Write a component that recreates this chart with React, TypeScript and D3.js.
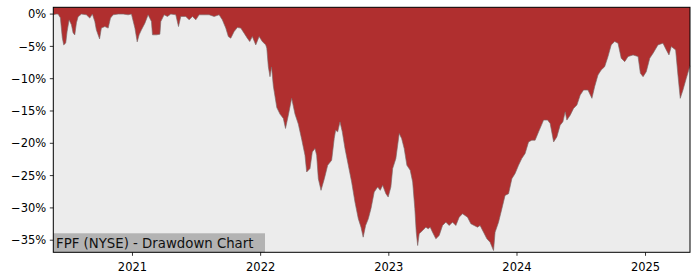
import React from "react";
import * as d3 from "d3";

// Drawdown series: time (decimal year) and drawdown (%)
const times: number[] = [
  2020.384, 2020.405, 2020.421, 2020.439, 2020.454, 2020.465, 2020.481, 2020.491, 2020.507, 2020.525,
  2020.538, 2020.551, 2020.564, 2020.577, 2020.603, 2020.641, 2020.668, 2020.688, 2020.707, 2020.719,
  2020.744, 2020.758, 2020.785, 2020.811, 2020.829, 2020.850, 2020.889, 2020.928, 2020.966, 2020.992,
  2021.019, 2021.037, 2021.052, 2021.070, 2021.097, 2021.122, 2021.148, 2021.156, 2021.187, 2021.214,
  2021.221, 2021.247, 2021.273, 2021.299, 2021.338, 2021.359, 2021.377, 2021.416, 2021.442, 2021.468,
  2021.494, 2021.520, 2021.559, 2021.598, 2021.637, 2021.676, 2021.701, 2021.728, 2021.748, 2021.767,
  2021.793, 2021.818, 2021.845, 2021.871, 2021.896, 2021.915, 2021.935, 2021.962, 2021.988, 2022.013,
  2022.040, 2022.048, 2022.060, 2022.073, 2022.085, 2022.099, 2022.126, 2022.151, 2022.177, 2022.194,
  2022.216, 2022.242, 2022.268, 2022.294, 2022.320, 2022.346, 2022.359, 2022.385, 2022.403, 2022.424,
  2022.437, 2022.450, 2022.471, 2022.497, 2022.523, 2022.554, 2022.574, 2022.585, 2022.601, 2022.619,
  2022.637, 2022.658, 2022.684, 2022.710, 2022.736, 2022.762, 2022.783, 2022.800, 2022.819, 2022.840,
  2022.861, 2022.886, 2022.913, 2022.933, 2022.952, 2022.977, 2022.995, 2023.016, 2023.030, 2023.055,
  2023.081, 2023.100, 2023.120, 2023.141, 2023.167, 2023.186, 2023.203, 2023.214, 2023.225, 2023.237,
  2023.264, 2023.289, 2023.307, 2023.323, 2023.341, 2023.367, 2023.393, 2023.419, 2023.445, 2023.471,
  2023.497, 2023.523, 2023.549, 2023.575, 2023.614, 2023.640, 2023.666, 2023.692, 2023.712, 2023.739,
  2023.765, 2023.790, 2023.817, 2023.829, 2023.856, 2023.882, 2023.907, 2023.934, 2023.960, 2023.985,
  2024.012, 2024.037, 2024.063, 2024.090, 2024.115, 2024.141, 2024.168, 2024.207, 2024.238, 2024.258,
  2024.285, 2024.310, 2024.336, 2024.357, 2024.375, 2024.388, 2024.414, 2024.440, 2024.466, 2024.492,
  2024.518, 2024.552, 2024.583, 2024.604, 2024.630, 2024.655, 2024.682, 2024.708, 2024.733, 2024.760,
  2024.786, 2024.811, 2024.838, 2024.864, 2024.903, 2024.942, 2024.960, 2024.981, 2025.006, 2025.033,
  2025.059, 2025.097, 2025.136, 2025.162, 2025.183, 2025.201, 2025.235, 2025.253, 2025.271, 2025.292,
  2025.318, 2025.347,
];

const drawdowns: number[] = [
  -0.11, 0, 0, -0.57, -3.68, -4.77, -4.46, -2.75, -0.89, -1.66,
  -2.9, -3.23, -1.35, -0.42, 0, -0.11, -0.62, 0, -1.15, -2.44,
  -3.84, -2.17, -1.93, -2.17, -0.62, -0.11, 0, 0, -0.11, 0,
  -2.17, -4.3, -3.21, -2.44, -1.4, -0.11, -1.15, -3.21, -3.21, -3.11,
  -1.15, -0.11, -0.37, 0, -0.11, -1.93, -0.37, -0.37, -0.89, -0.37,
  -0.89, -0.11, -0.11, -0.11, -0.37, -0.11, -0.89, -2.17, -3.48, -3.73,
  -2.7, -2.08, -2.17, -2.95, -3.73, -4.25, -3.48, -4.77, -3.48, -4.25,
  -4.77, -5.28, -8.14, -9.69, -8.18, -11.13, -14.47, -15.48, -16.15, -17.7,
  -15.64, -13.04, -15.48, -17.03, -19.36, -21.85, -24.44, -23.91, -21.34, -20.81,
  -21.85, -25.47, -27.28, -25.47, -23.4, -22.62, -19.25, -17.97, -18.23, -16.68,
  -18.23, -20.81, -23.4, -25.99, -29.1, -31.68, -32.98, -34.53, -32.72, -31.68,
  -30.08, -27.55, -26.77, -27.28, -26.51, -27.8, -28.32, -26.77, -23.91, -22.36,
  -18.48, -19.25, -20.81, -23.4, -24.18, -25.99, -30.12, -33.76, -35.82, -34.01,
  -33.49, -32.98, -33.23, -32.98, -33.76, -34.78, -34.27, -32.72, -32.2, -32.72,
  -32.2, -32.72, -31.43, -30.9, -31.43, -32.45, -32.72, -32.98, -32.72, -33.76,
  -34.78, -35.31, -36.6, -33.76, -32.2, -30.12, -28.06, -27.8, -25.47, -24.69,
  -23.4, -22.36, -21.58, -19.78, -19.52, -19.52, -18.23, -16.41, -16.41, -16.93,
  -19.78, -19.01, -17.19, -16.68, -15.12, -16.41, -15.64, -14.6, -14.08, -12.53,
  -11.76, -11.76, -13.04, -11.24, -9.43, -8.65, -8.14, -6.58, -4.77, -4.25,
  -4.5, -6.83, -7.36, -6.58, -6.32, -6.58, -9.16, -9.69, -8.91, -6.83,
  -6.06, -4.77, -4.5, -5.54, -6.32, -5.03, -5.54, -9.43, -13.04, -11.76,
  -9.94, -8.0,
];

const yTickValues: number[] = [0, -5, -10, -15, -20, -25, -30, -35];
const xTickYears: number[] = [2021, 2022, 2023, 2024, 2025];
const title = "FPF (NYSE) - Drawdown Chart";

function decToDate(t: number): Date {
  const y = Math.floor(t);
  const start = Date.UTC(y, 0, 1);
  const end = Date.UTC(y + 1, 0, 1);
  return new Date(start + (t - y) * (end - start));
}

export default function App() {
  const W = 700;
  const H = 280;
  const left = 53.3;
  const right = 690;
  const top = 7.3;
  const bottom = 252.3;

  const data = times.map((t, i) => ({ date: decToDate(t), v: drawdowns[i] }));

  const x = d3
    .scaleUtc()
    .domain([decToDate(times[0]), decToDate(times[times.length - 1])])
    .range([left, right]);
  const y = d3.scaleLinear().domain([-36.87, 1.05]).range([bottom, top]);

  const area = d3
    .area<{ date: Date; v: number }>()
    .x((d) => x(d.date))
    .y0(() => y(1.05))
    .y1((d) => y(d.v));
  const line = d3
    .line<{ date: Date; v: number }>()
    .x((d) => x(d.date))
    .y((d) => y(d.v));

  const font = "DejaVu Sans, sans-serif";
  const fmt = (v: number) => (v < 0 ? "\u2212" + Math.abs(v) : String(v)) + "%";

  return (
    <svg
      width={W}
      height={H}
      style={{ position: "absolute", left: 0, top: 0, background: "#fff" }}
    >
      <rect x={left} y={top} width={right - left} height={bottom - top} fill="#ececec" />
      <path d={area(data) || ""} fill="#b02f2f" />
      <path d={line(data) || ""} fill="none" stroke="#7a6a6a" strokeWidth={0.8} strokeOpacity={0.8} />
      {/* title box */}
      <rect x={left} y={233.3} width={265 - left} height={bottom - 233.3} fill="#b3b3b3" />
      <text x={56} y={247.5} fontFamily={font} fontSize={13.3} fill="#111">
        {title}
      </text>
      {/* frame */}
      <rect
        x={left}
        y={top}
        width={right - left}
        height={bottom - top}
        fill="none"
        stroke="#000"
        strokeWidth={1}
      />
      {/* y axis */}
      {yTickValues.map((v) => (
        <g key={v}>
          <line x1={left - 3.5} x2={left} y1={y(v)} y2={y(v)} stroke="#000" strokeWidth={0.8} />
          <text
            x={left - 7}
            y={y(v)}
            dy="0.36em"
            textAnchor="end"
            fontFamily={font}
            fontSize={11.5}
            fill="#000"
          >
            {fmt(v)}
          </text>
        </g>
      ))}
      {/* x axis */}
      {xTickYears.map((yr) => {
        const px = x(new Date(Date.UTC(yr, 0, 1)));
        return (
          <g key={yr}>
            <line x1={px} x2={px} y1={bottom} y2={bottom + 3.5} stroke="#000" strokeWidth={0.8} />
            <text
              x={px}
              y={bottom + 18.5}
              textAnchor="middle"
              fontFamily={font}
              fontSize={11.5}
              fill="#000"
            >
              {yr}
            </text>
          </g>
        );
      })}
    </svg>
  );
}
